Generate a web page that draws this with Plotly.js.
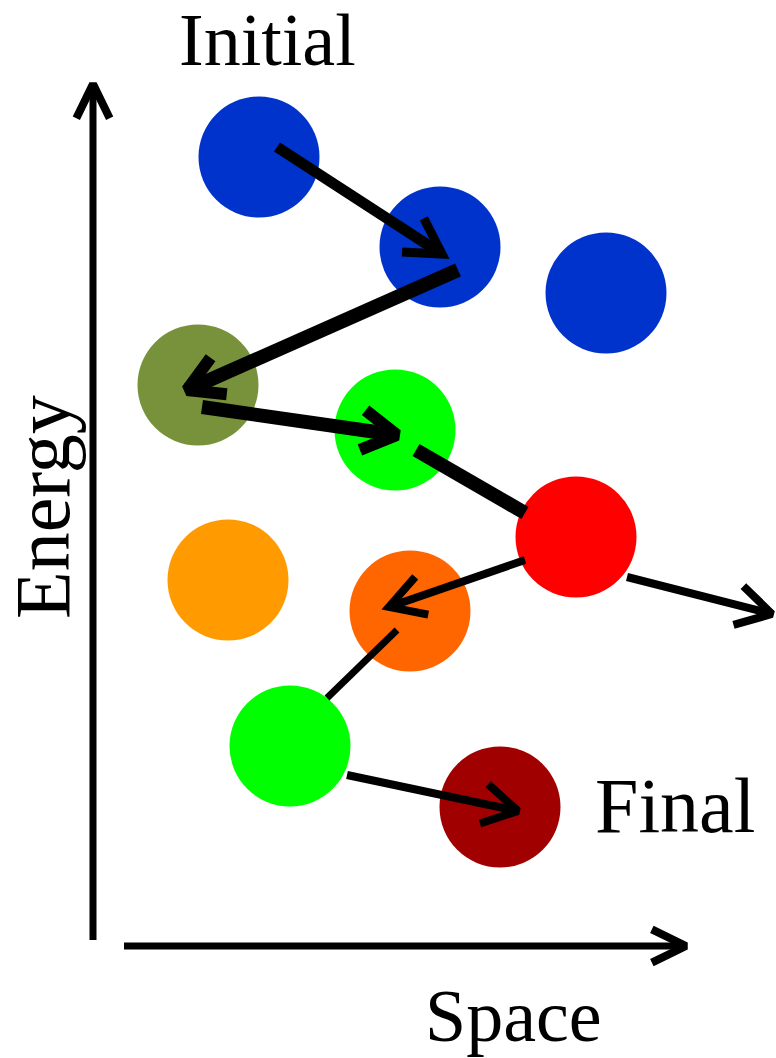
<!DOCTYPE html>
<html><head><meta charset="utf-8">
<script src="https://cdn.plot.ly/plotly-3.0.1.min.js"></script>
<style>html,body{margin:0;padding:0;background:#fff}#chart{width:776px;height:1058px}</style>
</head><body><div id="chart"></div>
<script>
// Particle states (x = space, y = energy, in picture units)
const stateX = [259, 440, 606, 198, 395, 576, 228, 410, 290, 500];
const stateY = [157, 247, 293, 385, 430, 537, 580, 611, 746, 807];
const stateColors = ['#0033CC','#0033CC','#0033CC','#78923C','#00FF00','#FF0000','#FF9A00','#FF6600','#00FF00','#A00000'];

// Transitions: start -> end, width, head (1 = chevron head)
const arrowX0 = [277, 458, 202, 416, 525, 627, 397, 347];
const arrowY0 = [147, 270, 407, 450, 560, 577, 630, 775];
const arrowX1 = [442, 187, 397, 525, 389, 772, 327, 518];
const arrowY1 = [254, 390, 435, 513, 607, 614, 698, 811];
const arrowW  = [11, 14, 14, 14, 8, 8, 7, 8];
const arrowHead = [1, 1, 1, 0, 1, 1, 0, 1];

// Axis arrows
const axisX0 = [93, 124];
const axisY0 = [940, 946];
const axisX1 = [93, 686];
const axisY1 = [84, 946];

const labels = ['Initial', 'Energy', 'Space', 'Final'];
const labelX = [267, 42, 513, 675];
const labelY = [40, 507, 1016, 805];
const labelAngle = [0, -90, 0, 0];
const labelSize = [74, 78, 74, 78];

const traces = [];
function chevron(x0,y0,x1,y1,L,ang){
  const dx=x1-x0, dy=y1-y0, d=Math.hypot(dx,dy);
  const ux=-dx/d, uy=-dy/d;
  const a=ang*Math.PI/180;
  const r=(s)=>[x1+L*(ux*Math.cos(s*a)-uy*Math.sin(s*a)), y1+L*(ux*Math.sin(s*a)+uy*Math.cos(s*a))];
  const p1=r(1), p2=r(-1);
  return {x:[p1[0],x1,p2[0]], y:[p1[1],y1,p2[1]]};
}
// circles
traces.push({type:'scatter', mode:'markers', x:stateX, y:stateY,
  marker:{size:121, color:stateColors, line:{width:0}}, hoverinfo:'skip', showlegend:false});
// arrows
for(let i=0;i<arrowX0.length;i++){
  traces.push({type:'scatter', mode:'lines', x:[arrowX0[i],arrowX1[i]], y:[arrowY0[i],arrowY1[i]],
    line:{color:'#000', width:arrowW[i]}, hoverinfo:'skip', showlegend:false});
  if(arrowHead[i]){
    const c=chevron(arrowX0[i],arrowY0[i],arrowX1[i],arrowY1[i],40,30);
    traces.push({type:'scatter', mode:'lines', x:c.x, y:c.y,
      line:{color:'#000', width:Math.max(8,arrowW[i]-2)}, hoverinfo:'skip', showlegend:false});
  }
}
for(let i=0;i<axisX0.length;i++){
  traces.push({type:'scatter', mode:'lines', x:[axisX0[i],axisX1[i]], y:[axisY0[i],axisY1[i]],
    line:{color:'#000', width:7}, hoverinfo:'skip', showlegend:false});
  const c=chevron(axisX0[i],axisY0[i],axisX1[i],axisY1[i],38,26);
  traces.push({type:'scatter', mode:'lines', x:c.x, y:c.y,
    line:{color:'#000', width:8}, hoverinfo:'skip', showlegend:false});
}
const annotations = labels.map((t,i)=>({text:t, x:labelX[i], y:labelY[i], xref:'x', yref:'y',
  showarrow:false, textangle:labelAngle[i], xanchor:'center', yanchor:'middle',
  font:{family:'Liberation Serif', size:labelSize[i], color:'#000'}}));

const layout = {width:776, height:1058, margin:{l:0,r:0,t:0,b:0},
  paper_bgcolor:'#fff', plot_bgcolor:'#fff', showlegend:false,
  xaxis:{range:[0,776], visible:false, fixedrange:true},
  yaxis:{range:[1058,0], visible:false, fixedrange:true},
  annotations};
Plotly.newPlot('chart', traces, layout, {staticPlot:true, displayModeBar:false});
</script></body></html>
